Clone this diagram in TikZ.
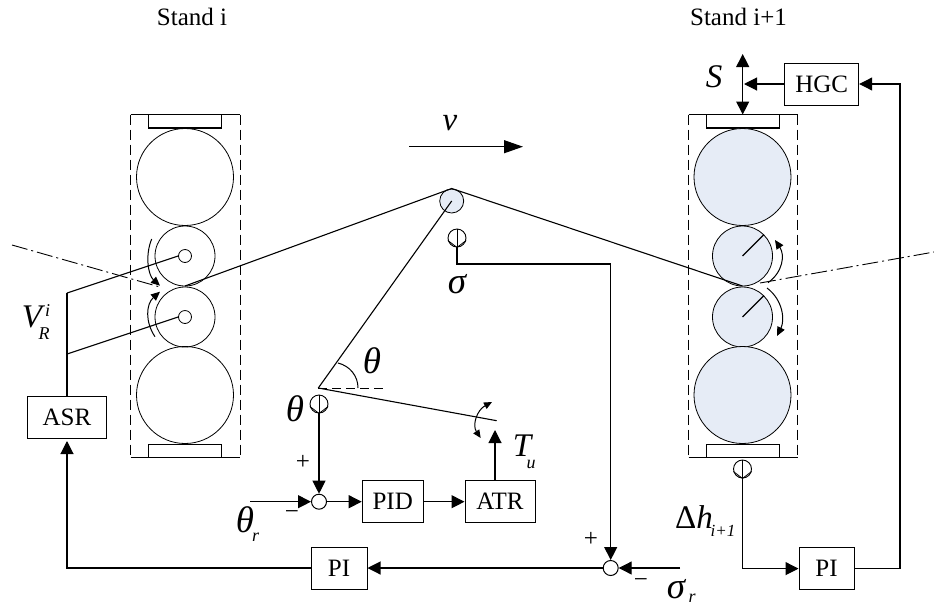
\documentclass[tikz,border=0pt]{standalone}
\usepackage{fontspec}
\setmainfont{Liberation Serif}
\usetikzlibrary{arrows.meta}
\definecolor{rollblue}{RGB}{230,236,246}
\tikzset{
  x=1pt,y=-1pt,
  blockbox/.style={draw,line width=1pt,minimum height=42pt,inner sep=0pt,font=\fontsize{25}{25}\selectfont,anchor=center},
  wire/.style={line width=1.1pt,-{Triangle[length=13pt,width=13pt]}},
  plainwire/.style={line width=1.1pt},
  roll/.style={draw,circle,inner sep=0pt,line width=.8pt},
  sumnode/.style={draw,circle,fill=white,inner sep=0pt,minimum size=15pt,line width=1pt},
  sensor/.style={draw,circle,inner sep=0pt,minimum size=18pt,line width=.9pt},
  lab/.style={inner sep=0pt,font=\fontsize{33}{33}\selectfont\itshape},
  greek/.style={inner sep=0pt,font=\fontsize{37}{37}\selectfont\itshape},
  subl/.style={inner sep=0pt,font=\fontsize{18}{18}\selectfont\itshape},
  captext/.style={inner sep=0pt,font=\fontsize{25}{25}\selectfont},
  signtext/.style={inner sep=0pt,font=\fontsize{25}{25}\selectfont},
  spin/.style={line width=1pt,-{Triangle[length=9pt,width=8pt]}},
  standside/.style={dash pattern=on 10pt off 5pt,line width=1pt},
  standedge/.style={line width=1.1pt}
}
\newcommand{\sensorface}[1]{\draw[line width=.9pt] (#1.north) -- (#1.south);
 \draw[line width=.8pt] (#1.195) -- (#1.south) -- (#1.345);}
\begin{document}
\begin{tikzpicture}
\useasboundingbox (0,0) rectangle (934,603);
% Stand captions
\node[captext] (capL) at (192,17) {Stand i};
\node[captext] (capR) at (738.5,17) {Stand i+1};
% left stand
\draw[standside] (130.5,114.5) -- (130.5,457.5) (240,114.5) -- (240,457.5);
\draw[standedge] (130.5,114.5) -- (240,114.5) (130.5,457.5) -- (240,457.5);
\draw[standedge] (148.5,114.5) rectangle (221.5,128);
\draw[standedge] (148.5,444.5) rectangle (221.5,457.5);
\node[roll,minimum size=97pt] (LT) at (185,177) {};
\node[roll,minimum size=60pt] (Lu) at (185,256) {};
\node[roll,minimum size=60pt] (Ld) at (185,317) {};
\node[roll,minimum size=97pt] (LB) at (185,395) {};
\node[roll,minimum size=13pt] (Luc) at (185,256) {};
\node[roll,minimum size=13pt] (Ldc) at (185,317) {};
% right stand
\draw[standside] (688.5,114.5) -- (688.5,457.5) (797.5,114.5) -- (797.5,457.5);
\draw[standedge] (688.5,114.5) -- (797.5,114.5) (688.5,457.5) -- (797.5,457.5);
\draw[standedge] (706.5,114.5) rectangle (779.5,128);
\draw[standedge] (706.5,444.5) rectangle (779.5,457.5);
\node[roll,fill=rollblue,minimum size=97pt] (RT) at (742.5,177) {};
\node[roll,fill=rollblue,minimum size=60pt] (Ru) at (742.5,256) {};
\node[roll,fill=rollblue,minimum size=60pt] (Rd) at (742.5,317) {};
\node[roll,fill=rollblue,minimum size=97pt] (RB) at (742.5,395) {};
\coordinate (Ruc) at (742.5,256);
\coordinate (Rdc) at (742.5,317);
\draw[line width=1.1pt] (Ruc) -- (Ru.45);
\draw[line width=1.1pt] (Rdc) -- (Rd.45);
% centre lines
\draw[line width=.9pt,dash pattern=on 16pt off 4pt on 2pt off 4pt] (12,245) -- (160,287);
\draw[line width=.9pt,dash pattern=on 16pt off 4pt on 2pt off 4pt] (760,283) -- (934,252);
% strip & looper
\node[roll,fill=rollblue,minimum size=24pt] (loop) at (451.7,201) {};
\coordinate (pivot) at (318.3,388);
\coordinate (bite1) at (185,286);
\coordinate (bite2) at (742.5,286);
\coordinate (vtop) at (67,293);
\coordinate (vlow) at (67,354);
\draw[plainwire] (vtop) -- (Luc.west);
\draw[plainwire] (vlow) -- (Ldc.west);
\draw[plainwire] (vtop) -- (vlow);
\draw[plainwire] (bite1) -- (451.7,188.5) -- (bite2);
\draw[plainwire] (loop.center) -- (pivot);
\coordinate (arm) at (496.7,420.7);
\draw[plainwire] (pivot) -- (arm);
\draw[dash pattern=on 9pt off 5pt,line width=1pt] (pivot) -- (386,388);
\draw[line width=1pt] (338,363) .. controls (350,366) and (358,376) .. (358,388);
% v arrow
\coordinate (va) at (409,146.7);
\coordinate (vb) at (523,146.7);
\draw[line width=1.1pt,-{Triangle[length=19pt,width=13pt]}] (va) -- (vb);
\node[lab] (v) at (450,123) {v};
% spin arrows left
\draw[spin] (151.7,239) .. controls (145,255) and (148,275) .. (160,285.7);
\draw[spin] (155,336.7) .. controls (145,322) and (146,304) .. (160,291.7);
% spin arrows right
\draw[spin] (768,282.7) .. controls (783,272) and (785,255) .. (775,240);
\draw[spin] (767,288) .. controls (783,300) and (785,320) .. (777,336);
% sensors
\node[sensor] (sLoop) at (457,238) {};
\sensorface{sLoop}
\node[sensor] (sTheta) at (319,404) {};
\sensorface{sTheta}
\node[sensor] (sH) at (742.5,469) {};
\sensorface{sH}
% sums
\node[sumnode] (s1) at (319,501.7) {};
\node[sumnode] (s2) at (610.7,568) {};
% boxes
\node[blockbox,minimum width=61pt] (PID) at (392.7,501.7) {PID};
\node[blockbox,minimum width=70pt] (ATR) at (500,501.7) {ATR};
\node[blockbox,minimum width=56pt] (PIm) at (339,568) {PI};
\node[blockbox,minimum width=55pt] (PIr) at (826.5,568.6) {PI};
\node[blockbox,minimum width=79pt] (ASR) at (67,417.5) {ASR};
\node[blockbox,minimum width=74pt] (HGC) at (821.7,84) {HGC};
% control wires
\draw[wire] (sTheta.south) -- (s1.north);
\coordinate (thr) at (250,501.7);
\draw[wire] (thr) -- (s1.west);
\draw[wire] (s1.east) -- (PID.west);
\draw[wire] (PID.east) -- (ATR.west);
\coordinate (tu) at (495,430);
\draw[wire] (tu |- ATR.north) -- (tu);
\draw[wire] (sLoop.south) |- (610.7,264) -- (s2.north);
\coordinate (sr) at (680,568);
\draw[wire] (sr) -- (s2.east);
\draw[wire] (s2.west) -- (PIm.east);
\coordinate (asrin) at (67,441);
\draw[wire] (PIm.west) -| (asrin);
\draw[plainwire] (ASR.north) -- (vlow);
\draw[wire] (sH.south) |- (PIr.west);
\draw[wire] (PIr.east) -| (900,84) -- (HGC.east);
\coordinate (hgcin) at (744,84);
\draw[wire] (HGC.west) -- (hgcin);
\coordinate (up) at (742.7,54);
\coordinate (down) at (742.7,114.5);
\draw[line width=1.1pt,{Triangle[length=13pt,width=13pt]}-{Triangle[length=13pt,width=13pt]}] (up) -- (down);
% torque arrows
\draw[line width=1pt,{Triangle[length=8pt,width=7pt]}-{Triangle[length=8pt,width=7pt]}] (492,402) .. controls (477,410) and (472,425) .. (480.7,438);
% labels
\node[lab] (S) at (714,77) {S};
\node[lab] (VR) at (32,317) {V};
\node[subl] (VRi) at (47.5,311) {i};
\node[subl] (VRr) at (44,334) {R};
\node[greek] (th1) at (372,361) {θ};
\node[greek] (th2) at (295,409) {θ};
\node[greek] (thr2) at (245,520) {θ};
\node[subl] (thrr) at (255.5,537) {r};
\node[greek] (sig) at (457,284) {σ};
\node[greek] (sigr) at (676,589) {σ};
\node[subl] (sigrr) at (692,598) {r};
\node[lab] (T) at (522,446) {T};
\node[subl] (Tu) at (531,464) {u};
\node[lab,font=\fontsize{33}{33}\selectfont] (D) at (694,517) {Δ\textit{h}};
\node[subl,font=\fontsize{17}{17}\selectfont\itshape] (Di) at (723,531) {i+1};
\node[signtext] (p1) at (303,462) {+};
\node[signtext] (p2) at (591,539) {+};
\node[signtext] (m1) at (292,515) {−};
\node[signtext] (m2) at (641,583) {−};
\end{tikzpicture}
\end{document}
